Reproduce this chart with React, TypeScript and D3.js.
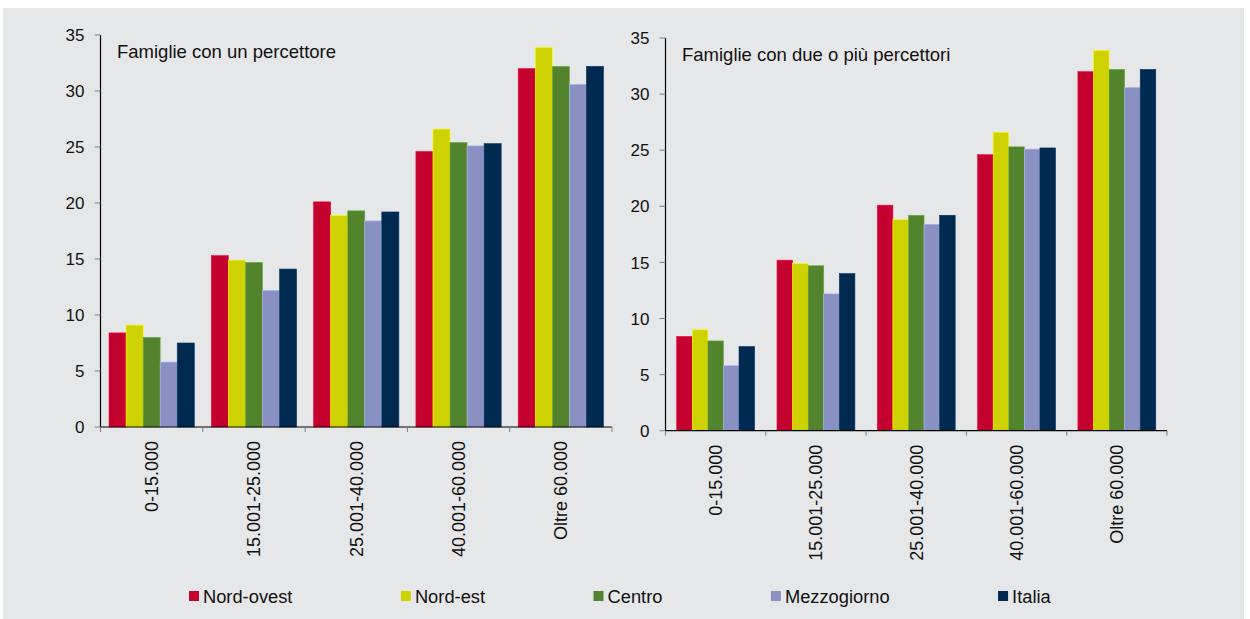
import React, { useEffect, useRef } from "react";
import * as d3 from "d3";

const categories = ["0-15.000", "15.001-25.000", "25.001-40.000", "40.001-60.000", "Oltre 60.000"];
const seriesNames = ["Nord-ovest", "Nord-est", "Centro", "Mezzogiorno", "Italia"];
const seriesColors = ["#c4002f", "#cdd200", "#52832d", "#8990c2", "#00294f"];
const yTicks = [0, 5, 10, 15, 20, 25, 30, 35];

// Famiglie con un percettore: values per category for each series
const unNordOvest = [8.4, 15.3, 20.1, 24.6, 32.0];
const unNordEst = [9.1, 14.9, 18.9, 26.6, 33.9];
const unCentro = [8.0, 14.7, 19.3, 25.4, 32.2];
const unMezzogiorno = [5.8, 12.2, 18.4, 25.1, 30.6];
const unItalia = [7.5, 14.1, 19.2, 25.3, 32.2];

// Famiglie con due o più percettori
const dueNordOvest = [8.4, 15.2, 20.1, 24.6, 32.0];
const dueNordEst = [9.0, 14.9, 18.8, 26.6, 33.9];
const dueCentro = [8.0, 14.7, 19.2, 25.3, 32.2];
const dueMezzogiorno = [5.8, 12.2, 18.4, 25.1, 30.6];
const dueItalia = [7.5, 14.0, 19.2, 25.2, 32.2];

const FONT = "'Liberation Sans', Arial, sans-serif";

export default function App() {
  const ref = useRef<SVGSVGElement>(null);

  useEffect(() => {
    const svg = d3.select(ref.current);
    svg.selectAll("*").remove();

    svg.append("rect").attr("x", 3).attr("y", 8).attr("width", 1241).attr("height", 611).attr("fill", "#e6e7e9");

    const panels = [
      {
        title: "Famiglie con un percettore",
        data: [unNordOvest, unNordEst, unCentro, unMezzogiorno, unItalia],
        x0: 100.5, x1: 612, y0: 427, y1: 35, pad: 0.5,
      },
      {
        title: "Famiglie con due o più percettori",
        data: [dueNordOvest, dueNordEst, dueCentro, dueMezzogiorno, dueItalia],
        x0: 665.5, x1: 1167, y0: 430.7, y1: 38, pad: 0.72,
      },
    ];

    panels.forEach((p) => {
      const g = svg.append("g");
      const x = d3.scaleBand<string>().domain(categories).range([p.x0, p.x1]).paddingInner(0).paddingOuter(0);
      const xs = d3.scaleBand<string>().domain(seriesNames).range([0, x.bandwidth()]).paddingInner(0).paddingOuter(p.pad);
      const y = d3.scaleLinear().domain([0, 35]).range([p.y0, p.y1]);

      // bars
      seriesNames.forEach((s, si) => {
        const col = seriesColors[si];
        const light = d3.color(col)!.brighter(0.7).formatHex();
        g.append("g")
          .selectAll("rect")
          .data(p.data[si])
          .join("rect")
          .attr("x", (_d, i) => (x(categories[i]) as number) + (xs(s) as number))
          .attr("y", (d) => y(d))
          .attr("width", xs.bandwidth())
          .attr("height", (d) => p.y0 - y(d))
          .attr("fill", col)
          .attr("stroke", light)
          .attr("stroke-width", 0.6);
      });

      // y axis
      g.append("line").attr("x1", p.x0).attr("x2", p.x0).attr("y1", p.y1).attr("y2", p.y0).attr("stroke", "#000").attr("stroke-width", 1.2);
      const yt = g.append("g");
      yt.selectAll("line").data(yTicks).join("line")
        .attr("x1", p.x0 - 6).attr("x2", p.x0).attr("y1", (d) => y(d)).attr("y2", (d) => y(d))
        .attr("stroke", "#808080").attr("stroke-width", 1);
      yt.selectAll("text").data(yTicks).join("text")
        .attr("x", p.x0 - 16).attr("y", (d) => y(d)).attr("dy", "0.36em")
        .attr("text-anchor", "end").attr("font-family", FONT).attr("font-size", 17).attr("fill", "#111")
        .text((d) => String(d));

      // x axis
      g.append("line").attr("x1", p.x0).attr("x2", p.x1).attr("y1", p.y0).attr("y2", p.y0).attr("stroke", "#000").attr("stroke-width", 1.2);
      const bounds = categories.map((c) => x(c) as number).concat([p.x1]);
      g.append("g").selectAll("line").data(bounds).join("line")
        .attr("x1", (d) => d).attr("x2", (d) => d).attr("y1", p.y0).attr("y2", p.y0 + 5)
        .attr("stroke", "#808080").attr("stroke-width", 1);
      g.append("g").selectAll("text").data(categories).join("text")
        .attr("transform", (c) => `translate(${(x(c) as number) + x.bandwidth() / 2},${p.y0 + 14}) rotate(-90)`)
        .attr("dy", "0.36em").attr("text-anchor", "end")
        .attr("font-family", FONT).attr("font-size", 18).attr("fill", "#111")
        .text((c) => c);

      // title
      g.append("text").attr("x", p.x0 + 16.5).attr("y", p.y1 + 22.5)
        .attr("font-family", FONT).attr("font-size", 18.5).attr("fill", "#111")
        .text(p.title);
    });

    // legend
    const lg = svg.append("g");
    let cx = 189;
    const gap = 108.5;
    seriesNames.forEach((s, i) => {
      lg.append("rect").attr("x", cx).attr("y", 591).attr("width", 10).attr("height", 10).attr("fill", seriesColors[i]);
      const t = lg.append("text").attr("x", cx + 14).attr("y", 602.5)
        .attr("font-family", FONT).attr("font-size", 18.3).attr("fill", "#111").text(s);
      const w = (t.node() as SVGTextElement).getComputedTextLength();
      cx = cx + 14 + w + gap;
    });
  }, []);

  return (
    <svg ref={ref} width={1250} height={619} style={{ position: "absolute", left: 0, top: 0, display: "block" }} />
  );
}
